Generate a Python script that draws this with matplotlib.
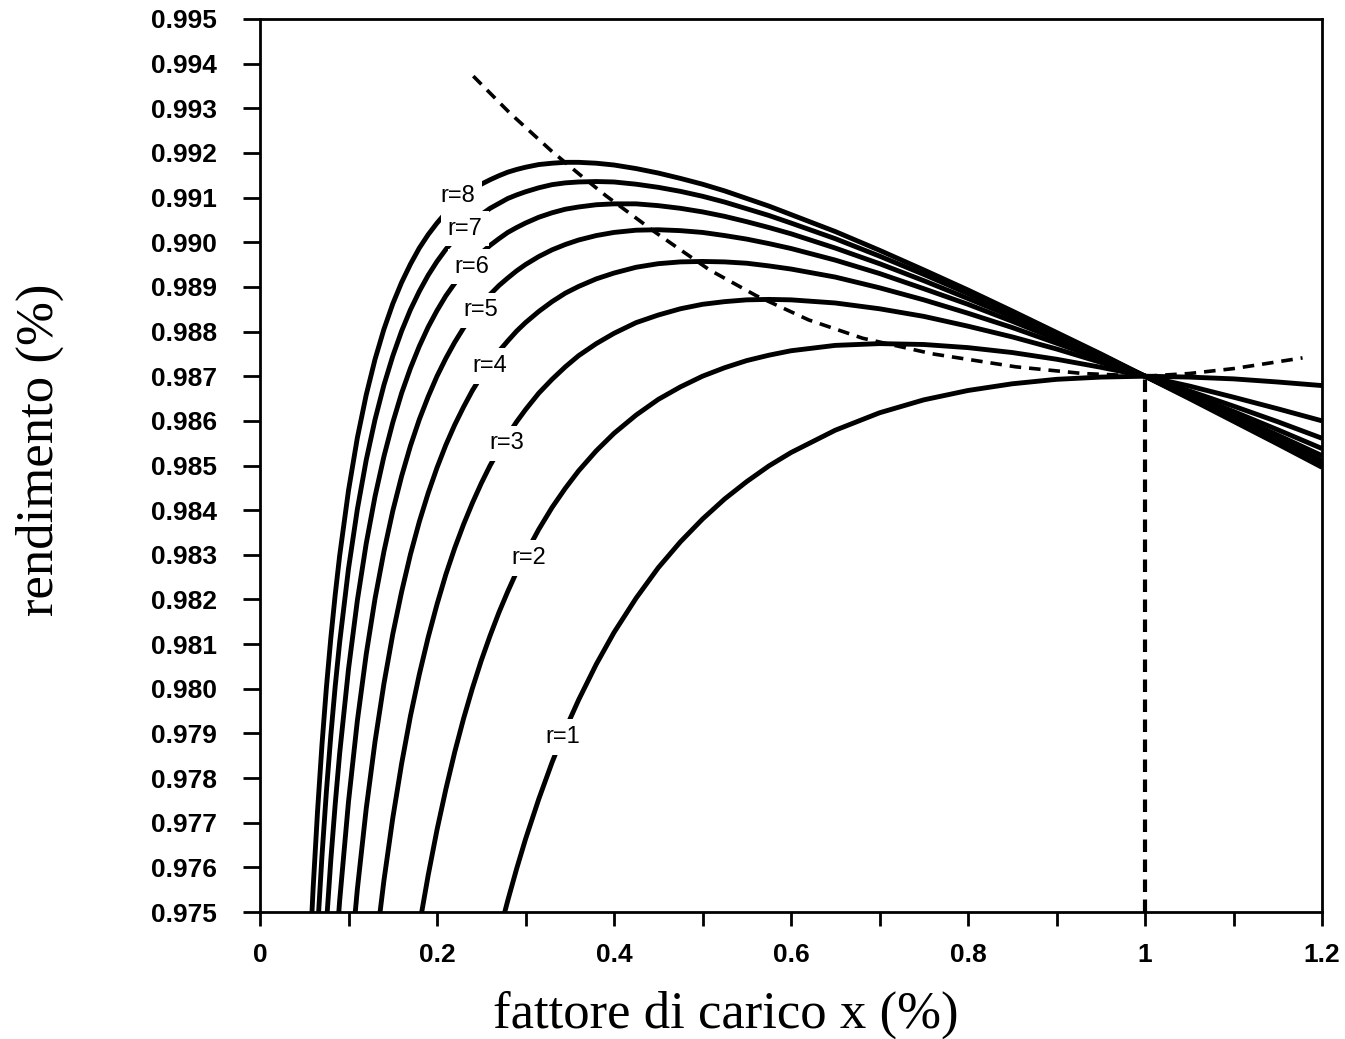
import matplotlib.pyplot as plt
from matplotlib.ticker import FixedLocator, FixedFormatter, MultipleLocator

# fattore di carico (asse x) comune a tutte le curve
load = [0.055, 0.06, 0.065, 0.07, 0.075, 0.08, 0.085, 0.09, 0.10, 0.11, 0.12,
        0.13, 0.14, 0.15, 0.16, 0.17, 0.18, 0.19, 0.20, 0.21, 0.22, 0.23, 0.24,
        0.25, 0.26, 0.27, 0.28, 0.29, 0.30, 0.315, 0.33, 0.345, 0.36, 0.38, 0.40,
        0.425, 0.45, 0.475, 0.50, 0.525, 0.55, 0.575, 0.60, 0.65, 0.70, 0.75,
        0.80, 0.85, 0.90, 0.95, 1.00, 1.05, 1.10, 1.15, 1.20]

eta_r8 = [0.97347, 0.97552, 0.97725, 0.97874, 0.98002, 0.98113, 0.98211, 0.98298,
          0.98444, 0.98562, 0.98658, 0.98738, 0.98805, 0.98862, 0.98910, 0.98951,
          0.98987, 0.99017, 0.99043, 0.99066, 0.99086, 0.99103, 0.99117, 0.99130,
          0.99140, 0.99149, 0.99157, 0.99163, 0.99168, 0.99174, 0.99177, 0.99179,
          0.99179, 0.99177, 0.99173, 0.99165, 0.99155, 0.99143, 0.99130, 0.99115,
          0.99098, 0.99081, 0.99062, 0.99024, 0.98982, 0.98938, 0.98893, 0.98846,
          0.98798, 0.98750, 0.98700, 0.98650, 0.98599, 0.98548, 0.98496]
eta_r7 = [0.97458, 0.97625, 0.97769, 0.97895, 0.98006, 0.98104, 0.98269, 0.98402,
          0.98512, 0.98603, 0.98680, 0.98745, 0.98801, 0.98849, 0.98890, 0.98926,
          0.98957, 0.98984, 0.99008, 0.99029, 0.99047, 0.99062, 0.99076, 0.99087,
          0.99098, 0.99106, 0.99113, 0.99122, 0.99129, 0.99133, 0.99135, 0.99136,
          0.99135, 0.99130, 0.99123, 0.99114, 0.99103, 0.99090, 0.99075, 0.99060,
          0.99043, 0.99008, 0.98969, 0.98928, 0.98885, 0.98840, 0.98795, 0.98748,
          0.98700, 0.98652, 0.98602, 0.98553, 0.98503]
eta_r6 = [0.97307, 0.97472, 0.97616, 0.97742, 0.97855, 0.98044, 0.98198, 0.98325,
          0.98431, 0.98520, 0.98596, 0.98662, 0.98718, 0.98767, 0.98810, 0.98847,
          0.98880, 0.98908, 0.98934, 0.98956, 0.98976, 0.98993, 0.99008, 0.99022,
          0.99033, 0.99043, 0.99056, 0.99066, 0.99074, 0.99079, 0.99084, 0.99086,
          0.99086, 0.99082, 0.99076, 0.99068, 0.99058, 0.99046, 0.99033, 0.99019,
          0.98987, 0.98952, 0.98914, 0.98874, 0.98833, 0.98790, 0.98745, 0.98700,
          0.98654, 0.98607, 0.98559, 0.98511]
eta_r5 = [0.97246, 0.97394, 0.97525, 0.97747, 0.97928, 0.98077, 0.98202, 0.98307,
          0.98398, 0.98476, 0.98544, 0.98603, 0.98654, 0.98700, 0.98740, 0.98776,
          0.98808, 0.98836, 0.98861, 0.98883, 0.98903, 0.98920, 0.98936, 0.98950,
          0.98968, 0.98983, 0.98995, 0.99005, 0.99015, 0.99022, 0.99027, 0.99028,
          0.99026, 0.99022, 0.99015, 0.99007, 0.98997, 0.98986, 0.98960, 0.98930,
          0.98896, 0.98861, 0.98823, 0.98783, 0.98742, 0.98700, 0.98657, 0.98613,
          0.98568, 0.98522]
eta_r4 = [0.97333, 0.97551, 0.97731, 0.97882, 0.98011, 0.98122, 0.98217, 0.98301,
          0.98374, 0.98438, 0.98495, 0.98546, 0.98591, 0.98631, 0.98668, 0.98700,
          0.98729, 0.98756, 0.98779, 0.98801, 0.98820, 0.98845, 0.98867, 0.98886,
          0.98901, 0.98918, 0.98931, 0.98944, 0.98952, 0.98956, 0.98957, 0.98956,
          0.98953, 0.98947, 0.98940, 0.98922, 0.98898, 0.98871, 0.98841, 0.98809,
          0.98774, 0.98738, 0.98700, 0.98661, 0.98621, 0.98580, 0.98538]
eta_r3 = [0.97408, 0.97570, 0.97710, 0.97832, 0.97939, 0.98032, 0.98115, 0.98189,
          0.98256, 0.98315, 0.98368, 0.98416, 0.98460, 0.98500, 0.98535, 0.98568,
          0.98598, 0.98625, 0.98662, 0.98693, 0.98721, 0.98746, 0.98773, 0.98796,
          0.98820, 0.98837, 0.98851, 0.98861, 0.98867, 0.98871, 0.98872, 0.98871,
          0.98864, 0.98851, 0.98834, 0.98812, 0.98788, 0.98761, 0.98731, 0.98700,
          0.98667, 0.98633, 0.98598, 0.98561]
eta_r2 = [0.97469, 0.97582, 0.97684, 0.97775, 0.97858, 0.97933, 0.98001, 0.98063,
          0.98119, 0.98171, 0.98218, 0.98262, 0.98302, 0.98357, 0.98406, 0.98449,
          0.98488, 0.98533, 0.98572, 0.98613, 0.98648, 0.98676, 0.98700, 0.98719,
          0.98735, 0.98747, 0.98757, 0.98769, 0.98773, 0.98771, 0.98764, 0.98753,
          0.98738, 0.98720, 0.98700, 0.98678, 0.98653, 0.98627, 0.98600]
eta_r1 = [0.97367, 0.97450, 0.97526, 0.97597, 0.97663, 0.97753, 0.97835, 0.97909,
          0.97975, 0.98055, 0.98126, 0.98203, 0.98271, 0.98329, 0.98380, 0.98425,
          0.98464, 0.98499, 0.98529, 0.98579, 0.98618, 0.98647, 0.98668, 0.98683,
          0.98693, 0.98698, 0.98700, 0.98698, 0.98694, 0.98687, 0.98679]

curves = [eta_r8, eta_r7, eta_r6, eta_r5, eta_r4, eta_r3, eta_r2, eta_r1]

# luogo dei massimi (tratteggiata)
x_max = [0.241, 0.282, 0.329, 0.361, 0.391, 0.421, 0.444, 0.470, 0.508, 0.561,
         0.620, 0.681, 0.760, 0.854, 0.930, 1.000, 1.050, 1.100, 1.136, 1.178]
eta_max = [0.99372, 0.99290, 0.99205, 0.99152, 0.99104, 0.99060, 0.99026, 0.98990,
           0.98938, 0.98880, 0.98826, 0.98785, 0.98750, 0.98721, 0.98706, 0.98700,
           0.98706, 0.98717, 0.98728, 0.98741]

# carico nominale
x_nom = 1.0
eta_nom = 0.987

# etichette delle curve
labels = ['r=8', 'r=7', 'r=6', 'r=5', 'r=4', 'r=3', 'r=2', 'r=1']
label_x = [0.2235, 0.2314, 0.2393, 0.2494, 0.2596, 0.2788, 0.3036, 0.3420]
label_y = [0.99104, 0.99030, 0.98945, 0.98848, 0.98723, 0.98550, 0.98293, 0.97892]

x_ticks = [0, 0.2, 0.4, 0.6, 0.8, 1.0, 1.2]
x_ticklabels = ['0', '0.2', '0.4', '0.6', '0.8', '1', '1.2']
y_ticks = [0.975 + 0.001 * i for i in range(21)]
y_ticklabels = ['%.3f' % v for v in y_ticks]

fig = plt.figure(figsize=(13.45, 10.39), dpi=100)
ax = fig.add_axes([260 / 1345, 1 - 912 / 1039, 1062 / 1345, 893 / 1039])

for eta in curves:
    ax.plot(load[-len(eta):], eta, color='black', lw=3.5,
            solid_capstyle='butt', solid_joinstyle='round')

ax.plot(x_max, eta_max, color='black', lw=2.6, linestyle=(0, (3.2, 2.2)))
ax.vlines(x_nom, 0.975, eta_nom, color='black', lw=3, linestyle=(0, (3, 1.8)))

for t, lx, ly in zip(labels, label_x, label_y):
    ax.text(lx, ly, t, ha='center', va='center', fontsize=17, family='Liberation Sans',
            bbox=dict(boxstyle='square,pad=0.28', fc='white', ec='none'), zorder=5)

ax.set_xlim(0, 1.2)
ax.set_ylim(0.975, 0.995)

ax.xaxis.set_major_locator(FixedLocator(x_ticks))
ax.xaxis.set_major_formatter(FixedFormatter(x_ticklabels))
ax.xaxis.set_minor_locator(MultipleLocator(0.1))
ax.yaxis.set_major_locator(FixedLocator(y_ticks))
ax.yaxis.set_major_formatter(FixedFormatter(y_ticklabels))

ax.tick_params(axis='y', direction='out', length=12, width=2, pad=19)
ax.tick_params(axis='x', which='both', direction='out', length=10, width=2, pad=12)
for lab in ax.get_xticklabels() + ax.get_yticklabels():
    lab.set_family('Liberation Sans')
    lab.set_fontweight('bold')
    lab.set_fontsize(19)

for s in ax.spines.values():
    s.set_linewidth(2)

fig.text(726 / 1345, 1 - 1015 / 1039, 'fattore di carico x (%)', ha='center', va='center',
         fontsize=38, family='Liberation Serif')
fig.text(40 / 1345, 1 - 450 / 1039, 'rendimento (%)', ha='center', va='center',
         rotation=90, fontsize=38, family='Liberation Serif')

fig.savefig('out.png', dpi=100)
